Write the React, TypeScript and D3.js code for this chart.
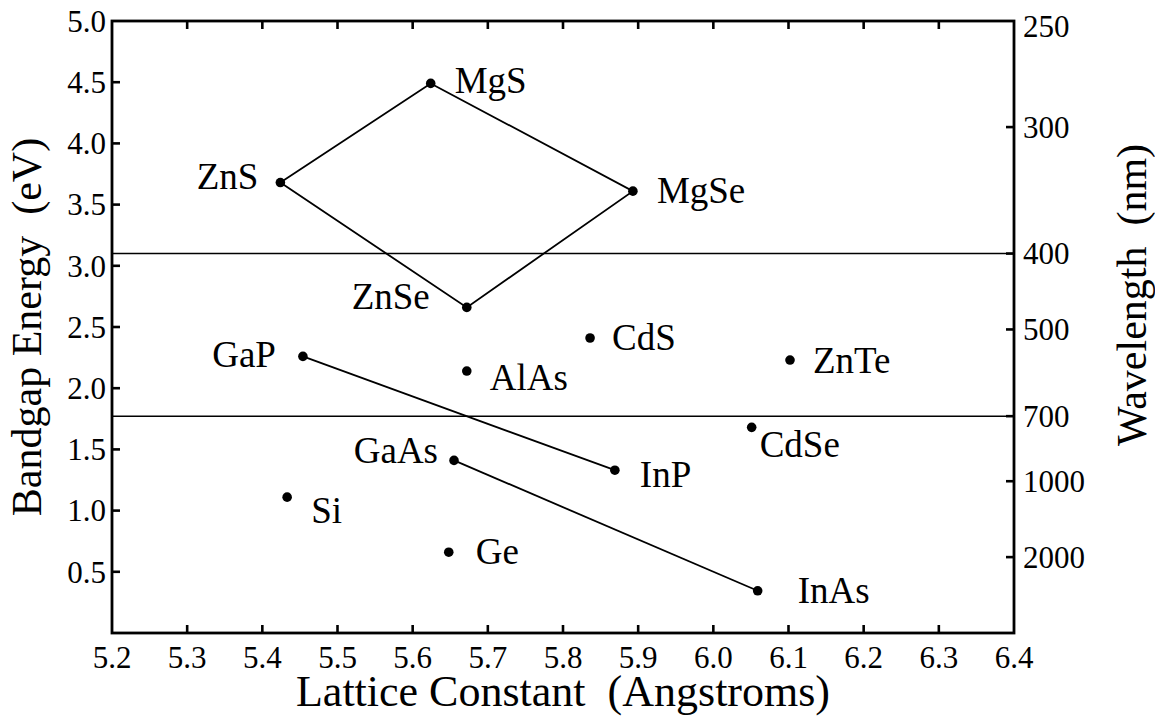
import React from "react";
import * as d3 from "d3";

// Semiconductor compounds: lattice constant (Å) and bandgap energy (eV)
const compounds = ["MgS", "ZnS", "MgSe", "ZnSe", "GaP", "AlAs", "CdS", "ZnTe", "CdSe", "InP", "GaAs", "Si", "Ge", "InAs"];
const latticeConstants = [5.624, 5.424, 5.893, 5.672, 5.454, 5.672, 5.836, 6.102, 6.051, 5.869, 5.655, 5.433, 5.648, 6.059];
const bandgaps = [4.49, 3.68, 3.61, 2.66, 2.26, 2.14, 2.41, 2.23, 1.68, 1.33, 1.41, 1.11, 0.66, 0.345];

// Alloy connections drawn as straight segments between compounds
const alloyPaths = [
  ["ZnS", "MgS", "MgSe", "ZnSe", "ZnS"],
  ["GaP", "InP"],
  ["GaAs", "InAs"],
];

// Axis ticks
const latticeTicks = [5.2, 5.3, 5.4, 5.5, 5.6, 5.7, 5.8, 5.9, 6.0, 6.1, 6.2, 6.3, 6.4];
const energyTicks = [0.5, 1.0, 1.5, 2.0, 2.5, 3.0, 3.5, 4.0, 4.5, 5.0];
const wavelengthTicks = [250, 300, 400, 500, 700, 1000, 2000];
// Visible-spectrum bounds (nm)
const visibleBounds = [400, 700];

const HC = 1240; // eV·nm

// Label placement relative to each marker: [dx, dy, anchor]
const labelLayout: Record<string, [number, number, string]> = {
  MgS: [24, 10, "start"],
  ZnS: [-22, 6, "end"],
  MgSe: [24, 12, "start"],
  ZnSe: [-37, 2, "end"],
  GaP: [-27, 11, "end"],
  AlAs: [23, 19, "start"],
  CdS: [22, 12, "start"],
  ZnTe: [23, 13, "start"],
  CdSe: [8, 30, "start"],
  InP: [25, 17, "start"],
  GaAs: [-16, 3, "end"],
  Si: [24, 26, "start"],
  Ge: [27, 12, "start"],
  InAs: [40, 12, "start"],
};

const FONT = "'Liberation Serif', 'Times New Roman', Times, serif";

export default function App() {
  const W = 1155, H = 717;
  const left = 112, right = 1014, top = 21, bottom = 633;
  const x = d3.scaleLinear().domain([5.2, 6.4]).range([left, right]);
  const y = d3.scaleLinear().domain([0, 5]).range([bottom, top]);
  const tick = 8;

  const pos = (name: string): [number, number] => {
    const i = compounds.indexOf(name);
    return [x(latticeConstants[i]), y(bandgaps[i])];
  };
  const line = d3.line<[number, number]>();

  return (
    <svg width={W} height={H} style={{ position: "absolute", left: 0, top: 0, background: "#fff" }}
      fontFamily={FONT}>
      <rect x={0} y={0} width={W} height={H} fill="#fff" />

      {/* visible-spectrum bounds */}
      {visibleBounds.map((nm) => (
        <line key={nm} x1={left} x2={right} y1={y(HC / nm)} y2={y(HC / nm)} stroke="#000" strokeWidth={1.6} />
      ))}

      {/* alloy lines */}
      {alloyPaths.map((p, i) => (
        <path key={i} d={line(p.map(pos)) || ""} fill="none" stroke="#000" strokeWidth={1.8} />
      ))}

      {/* compounds */}
      {compounds.map((c, i) => {
        const cx = x(latticeConstants[i]);
        const cy = y(bandgaps[i]);
        const [dx, dy, anchor] = labelLayout[c];
        return (
          <g key={c}>
            <circle cx={cx} cy={cy} r={4.8} fill="#000" />
            <text x={cx + dx} y={cy + dy} fontSize={37} textAnchor={anchor}>{c}</text>
          </g>
        );
      })}

      {/* frame */}
      <rect x={left} y={top} width={right - left} height={bottom - top} fill="none" stroke="#000" strokeWidth={2.8} />

      {/* bottom / top ticks */}
      {latticeTicks.map((t) => (
        <g key={t}>
          {t > 5.2 && t < 6.4 && (
            <>
              <line x1={x(t)} x2={x(t)} y1={bottom} y2={bottom - tick} stroke="#000" strokeWidth={2.6} />
              <line x1={x(t)} x2={x(t)} y1={top} y2={top + tick} stroke="#000" strokeWidth={2.6} />
            </>
          )}
          <text x={x(t)} y={668} fontSize={31} textAnchor="middle">{t.toFixed(1)}</text>
        </g>
      ))}

      {/* left ticks */}
      {energyTicks.map((t) => (
        <g key={t}>
          {t < 5 && <line x1={left} x2={left + tick} y1={y(t)} y2={y(t)} stroke="#000" strokeWidth={2.6} />}
          <text x={left - 6} y={y(t)} dy="0.35em" fontSize={31} textAnchor="end">{t.toFixed(1)}</text>
        </g>
      ))}

      {/* right ticks: wavelength */}
      {wavelengthTicks.map((nm) => (
        <g key={nm}>
          {nm > 250 && <line x1={right} x2={right - tick} y1={y(HC / nm)} y2={y(HC / nm)} stroke="#000" strokeWidth={2.6} />}
          <text x={right + 9} y={y(HC / nm)} dy="0.35em" fontSize={31} textAnchor="start">{nm}</text>
        </g>
      ))}

      {/* axis titles */}
      <text x={(left + right) / 2} y={706} fontSize={44} textAnchor="middle">
        Lattice Constant{"\u00a0\u00a0"}(Angstroms)
      </text>
      <text transform={`translate(41, 327) rotate(-90)`} fontSize={42} textAnchor="middle">
        Bandgap Energy{"\u00a0\u00a0"}(eV)
      </text>
      <text transform={`translate(1146, 295) rotate(-90)`} fontSize={42} textAnchor="middle">
        Wavelength{"\u00a0\u00a0"}(nm)
      </text>
    </svg>
  );
}
